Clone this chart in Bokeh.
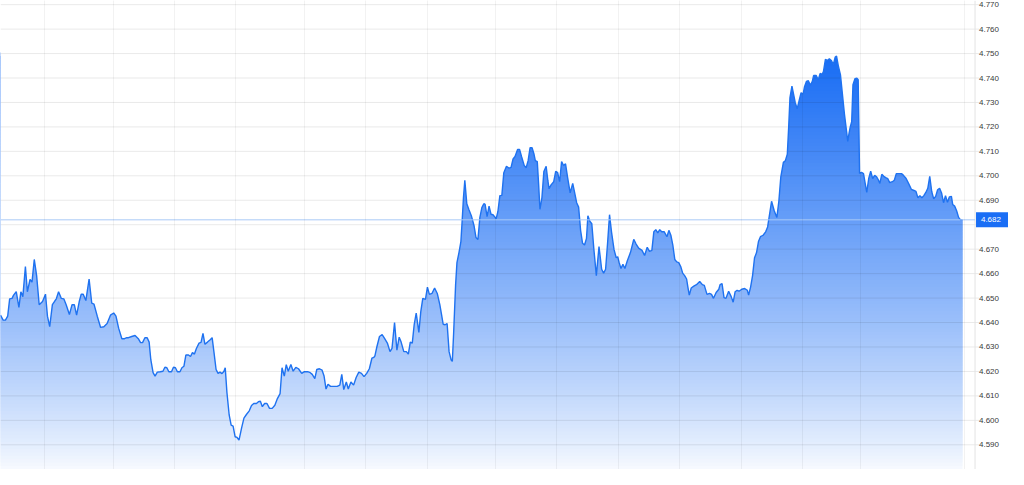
from bokeh.plotting import figure
from bokeh.models import FixedTicker, Range1d
from bokeh.core.properties import value
from bokeh.embed import file_html
from bokeh.resources import INLINE

t = [0, 2.7, 5, 7.3, 9.3, 11.7, 13.3, 16, 18.7, 20.7, 22.7, 25.3, 27.3, 30, 32, 34.3, 36.7, 39.3, 42.7, 45.7,
     47.7, 50, 52.7, 55.3, 56.7, 59, 61.7, 64.3, 66.7, 70, 72.7, 75, 77.3, 80, 82, 84, 86.7, 90, 92.7, 95,
     98.3, 101.7, 105, 108.3, 111.7, 115, 117.3, 120, 123.3, 126, 128.3, 130, 133.3, 136.7, 140, 142.3, 144.3, 146.7, 149, 151,
     152.7, 155, 157, 159.3, 162.3, 165, 167, 169, 171, 173.7, 175.7, 177.7, 179.7, 182.3, 184.3, 186.3, 188.3, 191, 193, 195,
     197, 199, 201.7, 203.7, 205.7, 207.7, 210.3, 213, 215, 217, 219, 221, 223, 225, 227, 228.3, 230, 232.3, 234.3, 236.3,
     238.3, 240.3, 242.3, 245, 247.3, 250, 252.7, 255, 257.3, 260, 262, 264, 266, 268.3, 270.7, 273.3, 276, 278.7, 281.3, 284,
     286, 288.3, 290.3, 292.3, 295, 297.3, 300, 302.7, 306, 308.7, 312, 314.7, 316.7, 319.3, 321.3, 324, 326.7, 328.7, 330.7, 332.7,
     335.3, 338.7, 342, 344.7, 346.7, 348.7, 351.3, 353.3, 356, 358.7, 361.3, 364, 366.7, 369.3, 372, 374.7, 377.3, 379.3, 380.3, 382.3,
     385, 387.7, 390.3, 393, 395.7, 397.7, 400.3, 402.7, 405, 407, 409.7, 412.3, 414.3, 416.3, 418.3, 420.3, 422.3, 425, 427, 429,
     431.7, 433.7, 435.7, 438.3, 441, 443.7, 446.3, 448.3, 449.7, 451.7, 453.7, 455.7, 457.7, 459, 460.3, 462.3, 463.7, 465.7, 467.7, 469,
     470.3, 471.7, 473.7, 475.7, 478.3, 481, 483, 485, 487, 489, 491, 492.3, 494.3, 496.3, 498.3, 500.3, 502.3, 503.5, 505.3, 507.3,
     509.3, 511.3, 514, 516.7, 518.7, 520.7, 522.7, 525.3, 527.3, 529.3, 532, 534, 536, 538, 540, 542, 543.3, 545.3, 546.7, 548,
     550, 552, 554.3, 556, 557.3, 559.3, 562, 564, 566, 568, 570, 572, 574, 576, 578.7, 581.3, 583.3, 585.3, 587.3, 589.3,
     591.3, 593.3, 595.3, 596.7, 598.7, 600.7, 602.7, 605.3, 608, 610.7, 612.7, 614.7, 616.7, 618.7, 620.7, 623.3, 625.5, 627, 628.5, 630.3,
     632.3, 634.3, 636.7, 640, 643.3, 645.7, 648.3, 651.7, 654.3, 657, 659.3, 661.7, 663.7, 665.7, 667.7, 669.7, 671.7, 674.3, 677, 679,
     681, 683, 685, 687, 689, 691, 693, 695, 697, 698.3, 699.7, 701.7, 704.3, 707, 710.3, 713, 715, 717.7, 720.3, 722.3,
     724.3, 727, 729.7, 731, 733, 735, 737, 739.7, 742.3, 744.3, 746.3, 748.3, 750.3, 753, 756, 758.7, 760, 762, 764, 766,
     768, 770, 772, 774.7, 777.3, 779.3, 781.3, 783.3, 786, 788.7, 790.7, 792.7, 795.3, 797.3, 799.3, 800.7, 802, 804, 806, 807.3,
     809.3, 811.3, 813.3, 815.3, 816.7, 818.7, 820.7, 822.7, 824.7, 826, 828.7, 830.7, 832.7, 834.7, 836, 838, 840, 842, 844, 846,
     848, 849.3, 851.3, 853.3, 855.3, 857.3, 859.3, 860.7, 862, 863.3, 864.7, 866, 868, 870, 871.3, 872.7, 874.7, 876.7, 878.5, 880,
     882, 884, 886, 888, 890, 892, 893.3, 895.3, 897.3, 899.3, 901.3, 903.3, 906, 908, 910, 912.7, 915.3, 917.3, 920, 922.7,
     925.3, 928, 930, 932, 934, 936, 938, 940, 942, 944, 946, 948, 950, 952, 954, 956, 958, 960, 962, 964,
     966, 967.3, 969.3, 971.3, 973.3, 975.3, 977.3]

price = [4.6430, 4.6410, 4.6410, 4.6426, 4.6497, 4.6499, 4.6512, 4.6526, 4.6462, 4.6526, 4.6506, 4.6629, 4.6526, 4.6576, 4.6565, 4.6658, 4.6592, 4.6473, 4.6486, 4.6516,
         4.6426, 4.6383, 4.6473, 4.6489, 4.6497, 4.6526, 4.6499, 4.6497, 4.6473, 4.6433, 4.6473, 4.6473, 4.6430, 4.6486, 4.6516, 4.6516, 4.6490, 4.6578, 4.6479, 4.6475,
         4.6426, 4.6380, 4.6383, 4.6396, 4.6430, 4.6439, 4.6426, 4.6377, 4.6334, 4.6334, 4.6338, 4.6338, 4.6343, 4.6347, 4.6334, 4.6318, 4.6318, 4.6338, 4.6338, 4.6320,
         4.6248, 4.6195, 4.6181, 4.6197, 4.6199, 4.6201, 4.6217, 4.6215, 4.6199, 4.6199, 4.6217, 4.6215, 4.6199, 4.6199, 4.6215, 4.6221, 4.6267, 4.6267, 4.6261, 4.6277,
         4.6271, 4.6294, 4.6316, 4.6319, 4.6356, 4.6311, 4.6320, 4.6330, 4.6338, 4.6274, 4.6208, 4.6192, 4.6197, 4.6191, 4.6201, 4.6215, 4.6115, 4.6022, 4.5980, 4.5976,
         4.5933, 4.5930, 4.5919, 4.5970, 4.6009, 4.6025, 4.6039, 4.6061, 4.6069, 4.6069, 4.6076, 4.6078, 4.6056, 4.6069, 4.6069, 4.6049, 4.6049, 4.6062, 4.6089, 4.6109,
         4.6215, 4.6181, 4.6228, 4.6201, 4.6228, 4.6201, 4.6217, 4.6211, 4.6192, 4.6199, 4.6199, 4.6195, 4.6188, 4.6171, 4.6208, 4.6211, 4.6205, 4.6181, 4.6128, 4.6148,
         4.6139, 4.6139, 4.6139, 4.6144, 4.6188, 4.6126, 4.6157, 4.6128, 4.6157, 4.6144, 4.6175, 4.6197, 4.6192, 4.6179, 4.6192, 4.6211, 4.6254, 4.6258, 4.6263, 4.6300,
         4.6343, 4.6351, 4.6334, 4.6316, 4.6281, 4.6294, 4.6400, 4.6287, 4.6340, 4.6320, 4.6281, 4.6281, 4.6271, 4.6320, 4.6316, 4.6393, 4.6439, 4.6360, 4.6446, 4.6499,
         4.6495, 4.6545, 4.6515, 4.6519, 4.6541, 4.6519, 4.6473, 4.6426, 4.6393, 4.6391, 4.6396, 4.6281, 4.6248, 4.6241, 4.6354, 4.6552, 4.6645, 4.6685, 4.6731, 4.6817,
         4.6910, 4.6982, 4.6886, 4.6863, 4.6837, 4.6797, 4.6748, 4.6740, 4.6830, 4.6870, 4.6886, 4.6883, 4.6833, 4.6876, 4.6843, 4.6841, 4.6831, 4.6824, 4.6854, 4.6919,
         4.6920, 4.7013, 4.7039, 4.7031, 4.7035, 4.7069, 4.7079, 4.7108, 4.7108, 4.7079, 4.7042, 4.7033, 4.7062, 4.7115, 4.7115, 4.7088, 4.7062, 4.7058, 4.6963, 4.6863,
         4.6910, 4.7018, 4.7039, 4.6982, 4.6947, 4.6963, 4.6976, 4.7018, 4.7013, 4.6976, 4.7058, 4.7042, 4.7049, 4.6996, 4.6930, 4.6969, 4.6930, 4.6890, 4.6872, 4.6777,
         4.6724, 4.6717, 4.6744, 4.6837, 4.6814, 4.6804, 4.6704, 4.6592, 4.6711, 4.6618, 4.6602, 4.6618, 4.6724, 4.6841, 4.6771, 4.6698, 4.6665, 4.6669, 4.6645, 4.6621,
         4.6638, 4.6621, 4.6652, 4.6687, 4.6740, 4.6721, 4.6704, 4.6695, 4.6674, 4.6708, 4.6691, 4.6695, 4.6771, 4.6780, 4.6767, 4.6780, 4.6771, 4.6771, 4.6751, 4.6777,
         4.6757, 4.6717, 4.6658, 4.6648, 4.6645, 4.6629, 4.6602, 4.6592, 4.6578, 4.6545, 4.6512, 4.6541, 4.6549, 4.6555, 4.6568, 4.6555, 4.6552, 4.6515, 4.6519, 4.6515,
         4.6499, 4.6523, 4.6536, 4.6555, 4.6559, 4.6502, 4.6499, 4.6528, 4.6506, 4.6483, 4.6526, 4.6532, 4.6528, 4.6536, 4.6539, 4.6532, 4.6512, 4.6545, 4.6592, 4.6665,
         4.6685, 4.6731, 4.6751, 4.6757, 4.6771, 4.6791, 4.6843, 4.6896, 4.6857, 4.6830, 4.6896, 4.6996, 4.7055, 4.7062, 4.7088, 4.7201, 4.7320, 4.7367, 4.7327, 4.7300,
         4.7274, 4.7307, 4.7340, 4.7333, 4.7363, 4.7386, 4.7389, 4.7370, 4.7386, 4.7410, 4.7410, 4.7393, 4.7419, 4.7415, 4.7426, 4.7476, 4.7472, 4.7479, 4.7472, 4.7455,
         4.7486, 4.7490, 4.7446, 4.7413, 4.7333, 4.7254, 4.7188, 4.7141, 4.7174, 4.7201, 4.7221, 4.7373, 4.7397, 4.7399, 4.7393, 4.7010, 4.7014, 4.7009, 4.6967, 4.6932,
         4.6989, 4.7019, 4.6989, 4.7002, 4.6996, 4.6982, 4.6969, 4.7006, 4.6998, 4.6993, 4.6989, 4.6972, 4.6976, 4.6982, 4.7009, 4.7009, 4.7009, 4.7002, 4.6989, 4.6967,
         4.6945, 4.6940, 4.6936, 4.6910, 4.6919, 4.6910, 4.6919, 4.6932, 4.6949, 4.6998, 4.6936, 4.6906, 4.6916, 4.6943, 4.6949, 4.6930, 4.6890, 4.6919, 4.6892, 4.6914,
         4.6916, 4.6883, 4.6876, 4.6857, 4.6830, 4.6820, 4.6820]

day_marks = [44.6, 114.8, 176.7, 239.2, 308.7, 371.2, 433.7, 502.6, 564.4, 627.6,
             690.2, 752.6, 815.1, 873.8, 979.0]
y_ticks = [4.590, 4.600, 4.610, 4.620, 4.630, 4.640, 4.650, 4.660, 4.670, 4.680,
           4.690, 4.700, 4.710, 4.720, 4.730, 4.740, 4.750, 4.760, 4.770]
y_tick_labels = ["4.590", "4.600", "4.610", "4.620", "4.630", "4.640", "4.650", "4.660", "4.670", "4.680",
                 "4.690", "4.700", "4.710", "4.720", "4.730", "4.740", "4.750", "4.760", "4.770"]
last_price = 4.682

W, H = 1008, 469
X_START, X_END = 0, 1024          # full canvas; chart area ends at AXIS_X, price scale to its right
AXIS_X = 990
Y_START, Y_END = 4.5799, 4.7717
FONT = value("Liberation Sans")

p = figure(width=W, height=H, output_backend="svg", toolbar_location=None,
           x_range=Range1d(X_START, X_END), y_range=Range1d(Y_START, Y_END),
           x_axis_location=None, y_axis_location=None,
           min_border_left=0, min_border_right=0, min_border_top=0, min_border_bottom=0)
p.outline_line_color = None
p.background_fill_color = "white"
p.border_fill_color = "white"

# gradient area: overlapping colour bands, then white above the price line
N = 120
y_hi = max(price)
step = (y_hi - Y_START) / N
base = (24, 108, 244)
bottoms, tops, colors = [], [], []
for k in range(N):
    frac = (k + 0.5) / N
    a = 0.03 + 0.97 * frac ** 0.85
    r, g, bl = (int(round(255 - a * (255 - c))) for c in base)
    bottoms.append(Y_START + k * step)
    tops.append(Y_START + (k + 2) * step)
    colors.append("#%02x%02x%02x" % (r, g, bl))
p.quad(left=t[0] - 10, right=t[-1], bottom=bottoms, top=tops, fill_color=colors, line_color=None)

# white cover above the price line, widened a little past both ends so no band edge shows
cover_x = [t[0] - 10] + t + [t[-1] + 10]
cover_y = [price[0]] + price + [price[-1]]
p.varea(x=cover_x, y1=cover_y, y2=Y_END, fill_color="white")

# vertical grid (session boundaries)
p.xgrid.ticker = FixedTicker(ticks=day_marks)
p.xgrid.grid_line_color = "black"
p.xgrid.grid_line_alpha = 0.05
p.xgrid.level = "guide"
p.ygrid.visible = False

# horizontal grid + tick marks, drawn over the fill
p.segment(x0=X_START, x1=AXIS_X + 4, y0=y_ticks, y1=y_ticks, line_color="black", line_alpha=0.085, line_width=1)
p.line(t, price, line_color="#1f72f0", line_width=1.4)

# frame lines of the price scale
p.segment(x0=[AXIS_X, X_START], x1=[AXIS_X, AXIS_X], y0=[Y_START, Y_START], y1=[Y_END, Y_START],
          line_color="#e3e3e3", line_width=1)
# last-price line
p.segment(x0=X_START, x1=AXIS_X, y0=last_price, y1=last_price, line_color="#a9c9f7", line_width=1)

# price scale labels
p.text(x=AXIS_X + 4, y=y_ticks, text=y_tick_labels, text_font=FONT, text_font_size="8px",
       text_color="#3a3a3a", text_align="left", text_baseline="middle")

# last-price tag
half_h = 7.5 * (Y_END - Y_START) / H
p.quad(left=AXIS_X + 1, right=X_END, bottom=last_price - half_h, top=last_price + half_h,
       fill_color="#1a6ef5", line_color=None)
p.text(x=AXIS_X + 6, y=last_price, text=[f"{last_price:.3f}"], text_font=FONT, text_font_size="8px",
       text_color="white", text_align="left", text_baseline="middle")

open("out.html", "w").write(file_html(p, INLINE))
